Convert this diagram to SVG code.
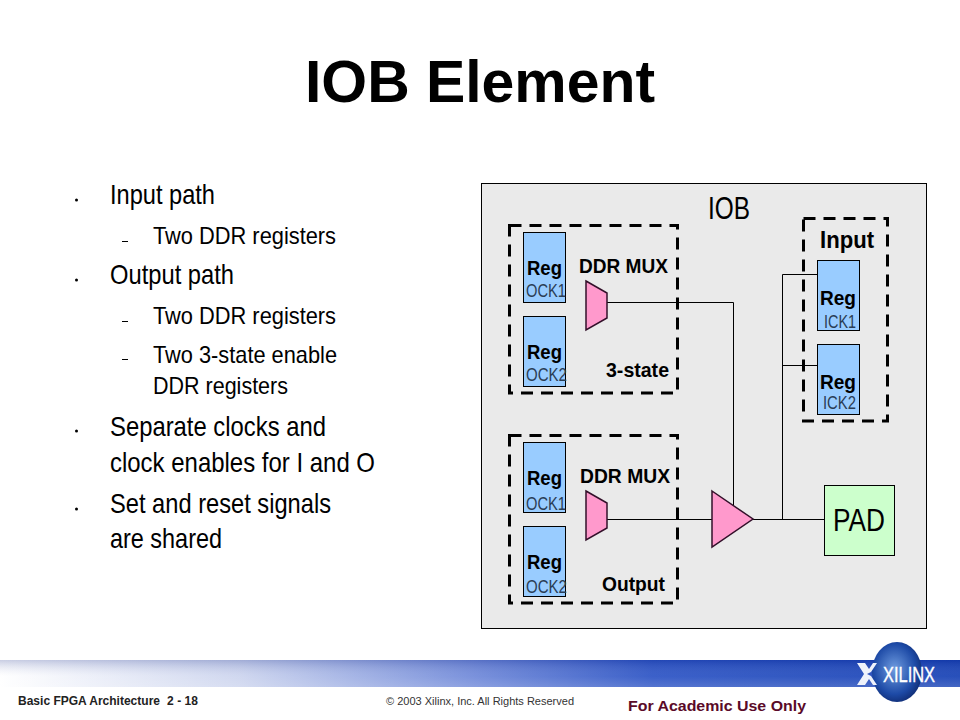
<svg xmlns="http://www.w3.org/2000/svg" width="960" height="720" viewBox="0 0 960 720">
<style>
text{font-family:"Liberation Sans",Arial,sans-serif;fill:#000}
.b1{font-size:28px}
.b2{font-size:24px}
.reg{fill:#99ccff;stroke:#000;stroke-width:1}
.mux{fill:#ff99cc;stroke:#33102a;stroke-width:1.5}
.dash{fill:none;stroke:#000;stroke-width:3;stroke-dasharray:12 8}
.r{font-size:21px;font-weight:bold}
.c{font-size:18px;fill:#2a3d55}
.l{font-size:21px;font-weight:bold}
.w{fill:none;stroke:#000;stroke-width:1}
</style>
<defs>
<linearGradient id="band" x1="0" x2="1" y1="0" y2="0">
<stop offset="0" stop-color="#ffffff"/><stop offset="0.25" stop-color="#ccd4ee"/><stop offset="0.5" stop-color="#6c86d8"/><stop offset="0.68" stop-color="#2a52c4"/><stop offset="1" stop-color="#1540b4"/>
</linearGradient>
<linearGradient id="sheen" x1="0" x2="0" y1="0" y2="1">
<stop offset="0" stop-color="#0a1f80" stop-opacity="0.22"/><stop offset="0.6" stop-color="#ffffff" stop-opacity="0.08"/><stop offset="1" stop-color="#ffffff" stop-opacity="0.2"/>
</linearGradient>
<radialGradient id="globe" cx="0.45" cy="0.45" r="0.6">
<stop offset="0" stop-color="#6f9ce0"/><stop offset="0.7" stop-color="#1d4aa6"/><stop offset="1" stop-color="#0f2a70"/>
</radialGradient>
</defs>
<rect width="960" height="720" fill="#fff"/>
<g id="footer">
<rect x="0" y="660" width="960" height="27" fill="url(#band)"/>
<rect x="0" y="660" width="960" height="27" fill="url(#sheen)"/>
<ellipse cx="897" cy="672" rx="25" ry="30" fill="url(#globe)"/>
<path d="M857 663h8l4 6 4-6h4l-6 9-4 2 4 2 6 9h-4l-4-6-4 6h-8l7-11z" fill="#eef2fb"/>
<text x="883" y="682" style="font-size:22px;fill:#fff;stroke:#fff;stroke-width:.4" textLength="52" lengthAdjust="spacingAndGlyphs">XILINX</text>
<text x="18" y="705" style="font-size:12px;font-weight:bold;fill:#222" textLength="142" lengthAdjust="spacingAndGlyphs">Basic FPGA Architecture</text>
<text x="167" y="705" style="font-size:12px;font-weight:bold;fill:#222" textLength="31" lengthAdjust="spacing">2 - 18</text>
<text x="386" y="705" style="font-size:11px;fill:#333" textLength="188" lengthAdjust="spacingAndGlyphs">© 2003 Xilinx, Inc. All Rights Reserved</text>
<text x="628" y="711" style="font-size:15.500px;font-weight:bold;fill:#5a0a28" textLength="178" lengthAdjust="spacingAndGlyphs">For Academic Use Only</text>
</g>
<text id="title" x="305" y="102" style="font-size:60px;font-weight:bold" textLength="350" lengthAdjust="spacingAndGlyphs">IOB Element</text>
<g id="bullets">
<circle cx="76.500" cy="200" r="1.500"/><circle cx="76.500" cy="280" r="1.500"/><circle cx="76.500" cy="431" r="1.500"/><circle cx="76.500" cy="509" r="1.500"/>
<rect x="122" y="241" width="6" height="1"/><rect x="122" y="321" width="6" height="1"/><rect x="122" y="359" width="6" height="1"/>
<text class="b1" x="110" y="204" textLength="105" lengthAdjust="spacingAndGlyphs">Input path</text>
<text class="b2" x="153" y="244" textLength="183" lengthAdjust="spacingAndGlyphs">Two DDR registers</text>
<text class="b1" x="110" y="284" textLength="124" lengthAdjust="spacingAndGlyphs">Output path</text>
<text class="b2" x="153" y="324" textLength="183" lengthAdjust="spacingAndGlyphs">Two DDR registers</text>
<text class="b2" x="153" y="363" textLength="184" lengthAdjust="spacingAndGlyphs">Two 3-state enable</text>
<text class="b2" x="153" y="394" textLength="135" lengthAdjust="spacingAndGlyphs">DDR registers</text>
<text class="b1" x="110" y="436" textLength="216" lengthAdjust="spacingAndGlyphs">Separate clocks and</text>
<text class="b1" x="110" y="472" textLength="265" lengthAdjust="spacingAndGlyphs">clock enables for I and O</text>
<text class="b1" x="110" y="513" textLength="221" lengthAdjust="spacingAndGlyphs">Set and reset signals</text>
<text class="b1" x="110" y="548" textLength="112" lengthAdjust="spacingAndGlyphs">are shared</text>
</g>
<g id="iob">
<rect x="481.500" y="183.500" width="445" height="445" fill="#eaeaea" stroke="#000"/>
<text x="708" y="219" style="font-size:32px" textLength="42" lengthAdjust="spacingAndGlyphs">IOB</text>
</g>
<g id="connectors">
<path class="w" d="M607 302.500H733.500V506"/>
<path class="w" d="M607 519.500H712"/>
<path class="w" d="M753 519.500H824"/>
<path class="w" d="M818 274.500H782.500V519"/>
<path class="w" d="M782.500 365.500H818"/>
</g>
<g id="group-3state"><rect class="dash" x="509.500" y="225.500" width="168" height="167.500"/>
<text class="l" x="579" y="273" textLength="89" lengthAdjust="spacingAndGlyphs">DDR MUX</text><text class="l" x="606" y="377" textLength="63" lengthAdjust="spacingAndGlyphs">3-state</text></g>
<g id="group-output"><rect class="dash" x="509.500" y="435.500" width="168" height="167.500"/>
<text class="l" x="580" y="483" textLength="90" lengthAdjust="spacingAndGlyphs">DDR MUX</text><text class="l" x="602" y="591" textLength="63" lengthAdjust="spacingAndGlyphs">Output</text></g>
<g id="group-input"><rect class="dash" x="803.500" y="218.500" width="84" height="202.500"/>
<text x="820" y="248" style="font-size:23px;font-weight:bold" textLength="54" lengthAdjust="spacingAndGlyphs">Input</text></g>
<g id="reg-t1"><rect class="reg" x="523.500" y="232.500" width="42" height="70"/><text class="r" x="527" y="275" textLength="35" lengthAdjust="spacingAndGlyphs">Reg</text><text class="c" x="526" y="297" textLength="40" lengthAdjust="spacingAndGlyphs">OCK1</text></g>
<g id="reg-t2"><rect class="reg" x="523.500" y="316.500" width="42" height="70"/><text class="r" x="527" y="359" textLength="35" lengthAdjust="spacingAndGlyphs">Reg</text><text class="c" x="526" y="381" textLength="41" lengthAdjust="spacingAndGlyphs">OCK2</text></g>
<g id="reg-o1"><rect class="reg" x="523.500" y="442.500" width="42" height="70"/><text class="r" x="527" y="485" textLength="35" lengthAdjust="spacingAndGlyphs">Reg</text><text class="c" x="526" y="510" textLength="40" lengthAdjust="spacingAndGlyphs">OCK1</text></g>
<g id="reg-o2"><rect class="reg" x="523.500" y="526.500" width="42" height="70"/><text class="r" x="527" y="569" textLength="35" lengthAdjust="spacingAndGlyphs">Reg</text><text class="c" x="526" y="593" textLength="41" lengthAdjust="spacingAndGlyphs">OCK2</text></g>
<g id="reg-i1"><rect class="reg" x="817.500" y="260.500" width="42" height="70"/><text class="r" x="820" y="305" textLength="36" lengthAdjust="spacingAndGlyphs">Reg</text><text class="c" x="824" y="328" textLength="32" lengthAdjust="spacingAndGlyphs">ICK1</text></g>
<g id="reg-i2"><rect class="reg" x="817.500" y="344.500" width="42" height="70"/><text class="r" x="820" y="389" textLength="36" lengthAdjust="spacingAndGlyphs">Reg</text><text class="c" x="823" y="409" textLength="33" lengthAdjust="spacingAndGlyphs">ICK2</text></g>
<g id="mux-t"><polygon class="mux" points="586,281 607,293 607,318 586,330"/></g>
<g id="mux-o"><polygon class="mux" points="586,491 607,503 607,528 586,540"/></g>
<g id="buffer"><polygon class="mux" points="712,491 753,519 712,547"/></g>
<g id="pad"><rect x="824.500" y="485.500" width="70" height="70" fill="#ccffcc" stroke="#000"/><text x="833" y="531" style="font-size:31px" textLength="52" lengthAdjust="spacingAndGlyphs">PAD</text></g>
</svg>
